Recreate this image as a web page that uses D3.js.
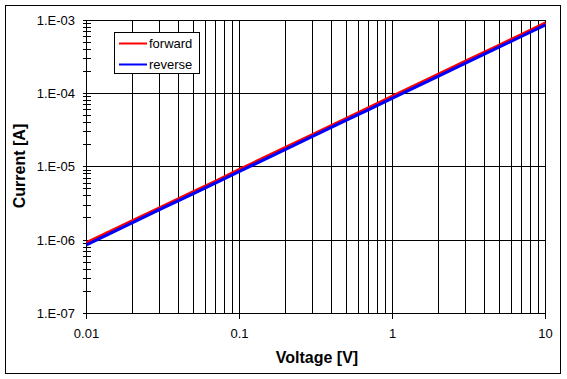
<!DOCTYPE html>
<html>
<head>
<meta charset="utf-8">
<script src="https://cdn.jsdelivr.net/npm/d3@7"></script>
<style>
  html, body { margin: 0; padding: 0; background: #fff; }
  svg { display: block; }
  text { font-family: "Liberation Sans", Arial, sans-serif; fill: #000; }
</style>
</head>
<body>
<svg id="chart" width="567" height="379"></svg>
<script>
// ---- data ----
const voltage = [0.01, 0.02, 0.03, 0.05, 0.07, 0.1, 0.2, 0.3, 0.5, 0.7, 1, 2, 3, 5, 7, 10];
const forwardCurrent = [9.2e-7, 1.84e-6, 2.75e-6, 4.6e-6, 6.4e-6, 9.2e-6, 1.84e-5, 2.76e-5, 4.6e-5, 6.45e-5, 9.2e-5, 1.84e-4, 2.77e-4, 4.6e-4, 6.45e-4, 9.2e-4];
const reverseCurrent = [8.6e-7, 1.73e-6, 2.6e-6, 4.3e-6, 6.05e-6, 8.65e-6, 1.73e-5, 2.6e-5, 4.33e-5, 6.05e-5, 8.65e-5, 1.73e-4, 2.6e-4, 4.33e-4, 6.06e-4, 8.65e-4];
const seriesNames = ["forward", "reverse"];
const seriesColors = ["#ff0000", "#0000ff"];
const xTickValues = [0.01, 0.1, 1, 10];
const xTickLabels = ["0.01", "0.1", "1", "10"];
const yTickValues = [1e-7, 1e-6, 1e-5, 1e-4, 1e-3];
const yTickLabels = ["1.E-07", "1.E-06", "1.E-05", "1.E-04", "1.E-03"];
const xTitle = "Voltage [V]";
const yTitle = "Current [A]";

(function () {
// ---- layout ----
const svg = d3.select("#chart");
const pLeft = 86.5, pRight = 545.5, pTop = 20.3, pBottom = 313.3;
const x = d3.scaleLog().domain([0.01, 10]).range([pLeft, pRight]);
const y = d3.scaleLog().domain([1e-7, 1e-3]).range([pBottom, pTop]);
const px = v => Math.round(x(v) - 0.5) + 0.5;
const py = v => Math.round(y(v) - 0.5) + 0.5;

// outer frame
svg.append("rect").attr("x", 5.5).attr("y", 5.5).attr("width", 555).attr("height", 368)
  .attr("fill", "#fff").attr("stroke", "#000").attr("stroke-width", 1);

// vertical grid at every 1..9 per decade
const xGrid = [];
[0.01, 0.1, 1].forEach(d => { for (let k = 1; k <= 9; k++) xGrid.push(d * k); });
xGrid.push(10);
const g = svg.append("g");
g.selectAll("line.xg").data(xGrid).join("line")
  .attr("x1", d => px(d)).attr("x2", d => px(d))
  .attr("y1", py(1e-3)).attr("y2", py(1e-7))
  .attr("stroke", "#000").attr("stroke-width", 1).attr("shape-rendering", "crispEdges");
g.selectAll("line.yg").data(yTickValues).join("line")
  .attr("x1", px(0.01)).attr("x2", px(10))
  .attr("y1", d => py(d)).attr("y2", d => py(d))
  .attr("stroke", "#000").attr("stroke-width", 1).attr("shape-rendering", "crispEdges");

// y axis ticks (major + minor), crossing the axis
const yTicksAll = [];
[1e-7, 1e-6, 1e-5, 1e-4].forEach(d => { for (let k = 1; k <= 9; k++) yTicksAll.push(d * k); });
yTicksAll.push(1e-3);
g.selectAll("line.yt").data(yTicksAll).join("line")
  .attr("x1", px(0.01) - 4).attr("x2", px(0.01) + 4)
  .attr("y1", d => py(d)).attr("y2", d => py(d))
  .attr("stroke", "#000").attr("stroke-width", 1).attr("shape-rendering", "crispEdges");
// x axis major ticks
g.selectAll("line.xt").data(xTickValues).join("line")
  .attr("x1", d => px(d)).attr("x2", d => px(d))
  .attr("y1", py(1e-7)).attr("y2", py(1e-7) + 5)
  .attr("stroke", "#000").attr("stroke-width", 1).attr("shape-rendering", "crispEdges");

// tick labels
svg.selectAll("text.yl").data(yTickValues).join("text")
  .attr("x", 75).attr("y", d => y(d)).attr("dy", "0.36em")
  .attr("text-anchor", "end").style("font-size", "13px")
  .text((d, i) => yTickLabels[i]);
svg.selectAll("text.xl").data(xTickValues).join("text")
  .attr("x", d => x(d)).attr("y", 333).attr("dy", "0.36em")
  .attr("text-anchor", "middle").style("font-size", "13px")
  .text((d, i) => xTickLabels[i]);

// axis titles
svg.append("text").attr("x", 317).attr("y", 357).attr("dy", "0.36em")
  .attr("text-anchor", "middle").style("font-size", "16px").style("font-weight", "bold")
  .text(xTitle);
svg.append("text").attr("transform", "translate(19,166) rotate(-90)").attr("dy", "0.36em")
  .attr("text-anchor", "middle").style("font-size", "16px").style("font-weight", "bold")
  .text(yTitle);

// series
const line = d3.line().x((d, i) => x(voltage[i])).y(d => y(d));
[forwardCurrent, reverseCurrent].forEach((vals, s) => {
  svg.append("path").datum(vals).attr("d", line)
    .attr("fill", "none").attr("stroke", seriesColors[s]).attr("stroke-width", 3);
});

// legend
const lg = svg.append("g");
lg.append("rect").attr("x", 114.5).attr("y", 32.5).attr("width", 85).attr("height", 41)
  .attr("fill", "#fff").attr("stroke", "#000").attr("stroke-width", 1);
seriesNames.forEach((name, i) => {
  const yy = 43.5 + i * 21;
  lg.append("line").attr("x1", 119).attr("x2", 147).attr("y1", yy).attr("y2", yy)
    .attr("stroke", seriesColors[i]).attr("stroke-width", 2);
  lg.append("text").attr("x", 149).attr("y", yy).attr("dy", "0.36em")
    .style("font-size", "13px").text(name);
});
})();
</script>
</body>
</html>
